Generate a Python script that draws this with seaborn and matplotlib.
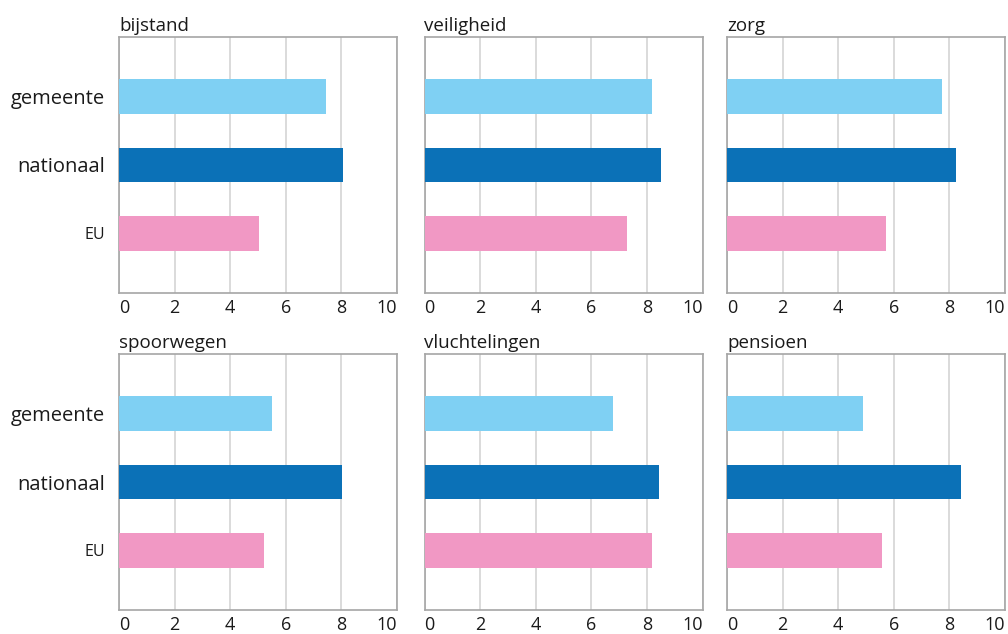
import pandas as pd
import numpy as np
import matplotlib.pyplot as plt
import seaborn as sns

# data
topics = ["bijstand", "veiligheid", "zorg", "spoorwegen", "vluchtelingen", "pensioen"]
levels = ["gemeente", "nationaal", "EU"]
gemeente = [7.45, 8.18, 7.73, 5.50, 6.77, 4.89]
nationaal = [8.06, 8.49, 8.24, 8.02, 8.43, 8.42]
eu = [5.04, 7.28, 5.72, 5.22, 8.18, 5.58]

colors = ["#7fd0f3", "#0b71b7", "#f198c4"]

sns.set_style("white")
plt.rcParams["font.family"] = ["Open Sans", "DejaVu Sans"]

rows = []
for i, t in enumerate(topics):
    for lev, vals in zip(levels, [gemeente, nationaal, eu]):
        rows.append({"topic": t, "level": lev, "score": vals[i]})
df = pd.DataFrame(rows)

fig = plt.figure(figsize=(10.08, 6.34), dpi=100)
lefts = [119 / 1008, 424.5 / 1008, 727 / 1008]
bottoms = [1 - 293 / 634, 1 - 610 / 634]
w = 278 / 1008
h = 256 / 634

for i, t in enumerate(topics):
    r, c = divmod(i, 3)
    ax = fig.add_axes([lefts[c], bottoms[r], w, h])
    sub = df[df["topic"] == t]
    sns.barplot(data=sub, y="level", x="score", hue="level", order=levels,
                hue_order=levels, palette=colors, orient="h", width=0.51,
                saturation=1, linewidth=0, legend=False, ax=ax, zorder=3)
    ax.set_xlim(0, 10)
    ax.set_ylim(2.87, -0.87)
    ax.set_xticks(range(0, 11, 2))
    ax.grid(axis="x", color="#d4d4d4", linewidth=1.2, zorder=0)
    ax.set_axisbelow(True)
    for s in ax.spines.values():
        s.set_color("#a6a6a6")
        s.set_linewidth(1.2)
    ax.tick_params(axis="both", length=0)
    ax.tick_params(axis="x", labelsize=13, pad=4, colors="#1a1a1a")
    xl = ax.get_xticklabels()
    xl[0].set_horizontalalignment("left")
    xl[-1].set_horizontalalignment("right")
    ax.set_xlabel("")
    ax.set_ylabel("")
    if c == 0:
        ax.tick_params(axis="y", pad=10, colors="#1a1a1a")
        for lab in ax.get_yticklabels():
            lab.set_fontsize(11.5 if lab.get_text() == "EU" else 14.5)
    else:
        ax.set_yticklabels([])
    ax.set_title(t, loc="left", fontsize=13.5, pad=4, color="#1a1a1a")

plt.savefig("out.png", dpi=100)
